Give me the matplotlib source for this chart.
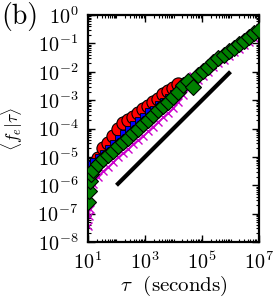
import numpy as np
import matplotlib
matplotlib.use('Agg')
import matplotlib.pyplot as plt
from matplotlib.ticker import LogLocator, NullFormatter

plt.rcParams['font.family'] = 'serif'
plt.rcParams['font.serif'] = ['cmr10', 'DejaVu Serif']
plt.rcParams['mathtext.fontset'] = 'cm'
plt.rcParams['axes.formatter.use_mathtext'] = True
plt.rcParams['axes.unicode_minus'] = False

# DATA (log10 of <f_e|tau>)
tau = [10, 11, 12, 13, 15, 22, 34, 51, 76, 114, 171, 256, 384, 577, 865,
       1297, 1946, 2919, 4379, 6568, 9853, 14779, 22168, 33253, 49879,
       74818, 112227, 168341, 252512, 378768, 568151, 852227, 1278340,
       1917510, 2876265, 4314398, 6471597, 9707396]

green_log = [-6.6, -6.2, -5.85, -5.6, -5.45, -5.25, -5.08, -4.95, -4.78,
             -4.62, -4.48, -4.32, -4.15, -4.02, -3.85, -3.70, -3.53, -3.36,
             -3.20, -3.06, -2.90, -2.70, -2.45, -2.33, -2.52, -2.12, -1.98,
             -1.82, -1.67, -1.52, -1.40, -1.28, -1.15, -1.03, -0.90, -0.77,
             -0.64, -0.52]

blue_log = [-5.2, -5.3, -5.35, -5.25, -5.15, -5.0, -4.85, -4.70, -4.50,
            -4.32, -4.15, -4.00, -3.85, -3.70, -3.55, -3.40, -3.30, -3.15,
            -3.02, -2.90, -2.75, -2.60, -2.47, -2.38, -2.58, -2.20, -2.05,
            -1.90, -1.75, -1.60, -1.48, -1.36, -1.23, -1.11, -0.98, -0.85,
            -0.72, -0.60]

magenta_log = [-7.45, -7.1, -6.85, -6.1, -5.95, -5.7, -5.5, -5.35, -5.18,
               -5.02, -4.88, -4.72, -4.55, -4.42, -4.25, -4.10, -3.93, -3.76,
               -3.60, -3.45, -3.28, -3.06, -2.82, -2.62, -2.15, -2.30, -2.16,
               -2.00, -1.85, -1.70, -1.57, -1.45, -1.32, -1.20, -1.07, -0.94,
               -0.81, -0.68]

tau_red = [15, 22, 34, 51, 76, 114, 171, 256, 384, 577, 865, 1297, 1946,
           2919, 4379, 6568, 9853, 14779]
red_log = [-5.3, -5.05, -4.70, -4.50, -4.25, -4.00, -3.82, -3.70, -3.60,
           -3.47, -3.33, -3.19, -3.07, -2.95, -2.80, -2.68, -2.58, -2.42]

# guide line, slope 1
guide_tau = [1e2, 1e6]
guide_val = [1e-6, 1e-2]

fig = plt.figure(figsize=(2.76, 3.03), dpi=100)
ax = fig.add_axes([88 / 276, 1 - 242 / 303, 171 / 276, 227 / 303])

ax.plot(tau, 10.0 ** np.array(magenta_log), color='#cc00cc', lw=0.7,
        marker='x', ms=6, mew=1.0, zorder=2)
ax.plot(tau_red, 10.0 ** np.array(red_log), ls='none', marker='o', ms=9.5,
        mfc='red', mec='black', mew=0.8, zorder=3)
ax.plot(tau, 10.0 ** np.array(blue_log), ls='none', marker='s', ms=4,
        mfc='blue', mec='black', mew=0.6, zorder=4)
ax.plot(tau, 10.0 ** np.array(green_log), ls='none', marker='D', ms=8.5,
        mfc='#008000', mec='black', mew=0.8, zorder=5)
ax.plot(guide_tau, guide_val, color='black', lw=3, solid_capstyle='butt',
        zorder=6)

ax.set_xscale('log')
ax.set_yscale('log')
ax.set_xlim(10, 1e7)
ax.set_ylim(1e-8, 1)

ax.set_xticks([1e1, 1e3, 1e5, 1e7])
ax.xaxis.set_minor_locator(LogLocator(base=10, subs=np.arange(1, 10), numticks=50))
ax.xaxis.set_minor_formatter(NullFormatter())
ax.yaxis.set_major_locator(LogLocator(base=10, numticks=20))
ax.yaxis.set_minor_locator(LogLocator(base=10, subs=np.arange(2, 10), numticks=50))
ax.yaxis.set_minor_formatter(NullFormatter())

ax.tick_params(which='both', direction='in', top=True, right=True,
               labelsize=14.5)
ax.tick_params(which='major', length=5, width=1.0)
ax.tick_params(which='minor', length=2.5, width=0.8)
ax.tick_params(axis='x', which='major', pad=7)
ax.tick_params(axis='y', which='major', pad=7)
for sp in ax.spines.values():
    sp.set_linewidth(1.6)

ax.set_xlabel(r'$\tau$  (seconds)', fontsize=15, labelpad=0)
ax.set_ylabel(r'$\langle f_e | \tau \rangle$', fontsize=12.5)
ax.yaxis.set_label_coords(-63 / 171, 0.5)

fig.text(0.072, 0.945, '(b)', fontsize=20, ha='center', va='center')

fig.savefig('out.png', dpi=100)
